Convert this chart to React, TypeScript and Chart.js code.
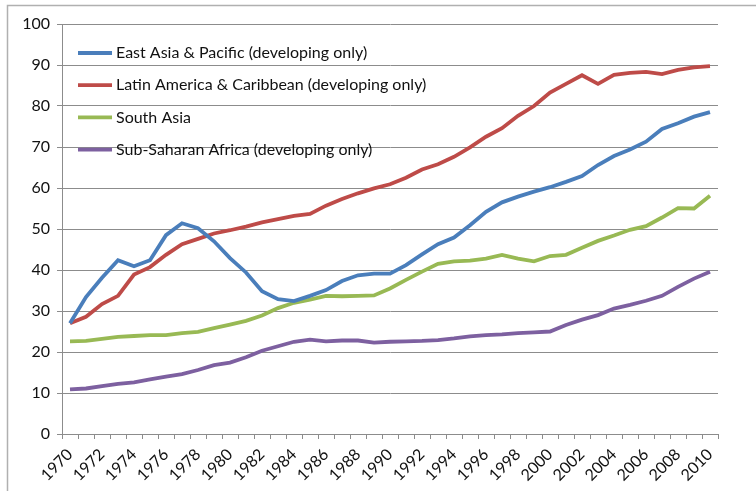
import React, { useEffect, useRef } from "react";
import { Chart, registerables } from "chart.js";

Chart.register(...registerables);

const years = [
  "1970", "1971", "1972", "1973", "1974", "1975", "1976", "1977", "1978", "1979",
  "1980", "1981", "1982", "1983", "1984", "1985", "1986", "1987", "1988", "1989",
  "1990", "1991", "1992", "1993", "1994", "1995", "1996", "1997", "1998", "1999",
  "2000", "2001", "2002", "2003", "2004", "2005", "2006", "2007", "2008", "2009",
  "2010",
];

const eastAsia = [
  27.0, 33.4, 38.1, 42.4, 40.9, 42.4, 48.5, 51.4, 50.2, 47.0,
  42.9, 39.4, 34.8, 32.9, 32.4, 33.7, 35.1, 37.3, 38.7, 39.1,
  39.1, 41.2, 43.8, 46.3, 47.9, 50.9, 54.2, 56.5, 57.9, 59.1,
  60.2, 61.5, 62.9, 65.6, 67.8, 69.4, 71.3, 74.4, 75.8, 77.4,
  78.5,
];

const latinAmerica = [
  27.0, 28.6, 31.7, 33.7, 38.9, 40.7, 43.7, 46.3, 47.6, 48.9,
  49.7, 50.6, 51.6, 52.4, 53.2, 53.7, 55.7, 57.3, 58.7, 59.9,
  60.9, 62.5, 64.5, 65.8, 67.6, 69.9, 72.5, 74.6, 77.6, 80.0,
  83.3, 85.4, 87.5, 85.4, 87.6, 88.1, 88.3, 87.8, 88.8, 89.4,
  89.7,
];

const southAsia = [
  22.6, 22.7, 23.2, 23.7, 23.9, 24.1, 24.1, 24.6, 24.9, 25.8,
  26.7, 27.6, 28.9, 30.7, 32.0, 32.8, 33.7, 33.6, 33.7, 33.8,
  35.5, 37.6, 39.6, 41.5, 42.1, 42.3, 42.8, 43.7, 42.8, 42.1,
  43.4, 43.7, 45.4, 47.1, 48.4, 49.8, 50.7, 52.8, 55.1, 55.0,
  58.1,
];

const subSaharan = [
  10.9, 11.1, 11.7, 12.2, 12.6, 13.3, 14.0, 14.6, 15.6, 16.8,
  17.4, 18.7, 20.3, 21.4, 22.5, 23.0, 22.6, 22.8, 22.8, 22.3,
  22.5, 22.6, 22.7, 22.9, 23.3, 23.8, 24.1, 24.3, 24.6, 24.8,
  25.0, 26.6, 27.9, 29.0, 30.6, 31.5, 32.5, 33.7, 35.9, 37.9,
  39.6,
];

const seriesLabels = [
  "East Asia & Pacific (developing only)",
  "Latin America & Caribbean (developing only)",
  "South Asia",
  "Sub-Saharan Africa (developing only)",
];
const seriesColors = ["#4a7ebb", "#be4b48", "#98b954", "#7d60a0"];
const seriesValues = [eastAsia, latinAmerica, southAsia, subSaharan];

const yMin = 0;
const yMax = 100;
const yStep = 10;

const FONT = "Lato, 'Open Sans', sans-serif";
const GRID = "#8c8c8c";
const TEXT = "#111";

const frameAndLegend = {
  id: "frameAndLegend",
  beforeDraw(chart: any) {
    const ctx = chart.ctx;
    ctx.save();
    ctx.strokeStyle = "#b0b0b0";
    ctx.lineWidth = 1.5;
    ctx.strokeRect(7.5, 5.5, 900, 700);
    ctx.restore();
  },
  afterDatasetsDraw(chart: any) {
    const ctx = chart.ctx;
    ctx.save();
    ctx.font = `16px ${FONT}`;
    ctx.textBaseline = "middle";
    chart.data.datasets.forEach((ds: any, i: number) => {
      const y = 53 + i * 32.2;
      ctx.strokeStyle = ds.borderColor;
      ctx.lineWidth = 3.8;
      ctx.beginPath();
      ctx.moveTo(78, y);
      ctx.lineTo(112, y);
      ctx.stroke();
      ctx.fillStyle = TEXT;
      ctx.fillText(ds.label, 116, y);
    });
    ctx.restore();
  },
};

export default function App() {
  const ref = useRef<HTMLCanvasElement>(null);
  useEffect(() => {
    if (!ref.current) return;
    const chart = new Chart(ref.current, {
      type: "line",
      data: {
        labels: years,
        datasets: seriesValues.map((vals, i) => ({
          label: seriesLabels[i],
          data: vals,
          borderColor: seriesColors[i],
          backgroundColor: seriesColors[i],
          borderWidth: 3.8,
          pointRadius: 0,
          tension: 0,
          fill: false,
        })),
      },
      options: {
        animation: false,
        responsive: false,
        maintainAspectRatio: false,
        layout: { padding: { top: 24, right: 38, bottom: 0, left: 0 } },
        plugins: {
          legend: { display: false },
          tooltip: { enabled: false },
        },
        scales: {
          x: {
            type: "category",
            offset: true,
            grid: {
              display: true,
              drawOnChartArea: false,
              drawTicks: true,
              tickLength: 5,
              offset: true,
              color: GRID,
            },
            border: { display: true, color: GRID, width: 1 },
            ticks: {
              autoSkip: false,
              minRotation: 45,
              maxRotation: 45,
              padding: 6,
              color: TEXT,
              font: { family: FONT, size: 16 },
              callback: (_v: any, idx: number) => (idx % 2 === 0 ? years[idx] : ""),
            },
            afterFit: (scale: any) => {
              scale.height = 57;
            },
          },
          y: {
            min: yMin,
            max: yMax,
            grid: {
              color: GRID,
              tickLength: 5,
              drawTicks: true,
            },
            border: { display: true, color: GRID, width: 1 },
            ticks: {
              stepSize: yStep,
              padding: 7,
              color: TEXT,
              font: { family: FONT, size: 16 },
            },
            afterFit: (scale: any) => {
              scale.width = 62;
            },
          },
        },
      },
      plugins: [frameAndLegend],
    });
    return () => chart.destroy();
  }, []);
  return (
    <div style={{ position: "absolute", left: 0, top: 0, width: 756, height: 491, background: "#fff" }}>
      <canvas ref={ref} width={756} height={491} style={{ display: "block" }} />
    </div>
  );
}
